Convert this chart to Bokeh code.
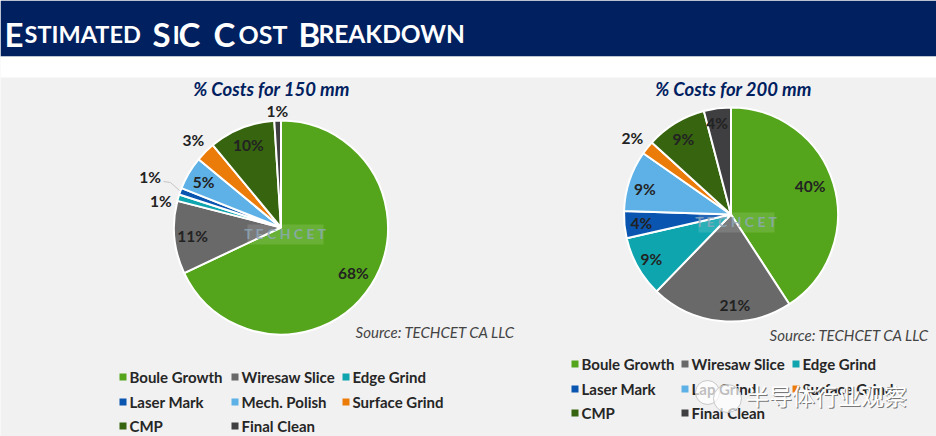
from bokeh.plotting import figure
from bokeh.embed import file_html
from bokeh.resources import INLINE
from bokeh.core.properties import value
from bokeh.models import Range1d
import math

# ---- data ----
categories_150 = ["Boule Growth", "Wiresaw Slice", "Edge Grind", "Laser Mark", "Mech. Polish", "Surface Grind", "CMP", "Final Clean"]
values_150 = [68, 11, 1, 1, 5, 3, 10, 1]
categories_200 = ["Boule Growth", "Wiresaw Slice", "Edge Grind", "Laser Mark", "Lap Grind", "Surface Grind", "CMP", "Final Clean"]
values_200 = [40, 21, 9, 4, 9, 2, 9, 4]
colors = ["#55A51C", "#696969", "#0FA5AE", "#0A55B0", "#5EB1E6", "#EC7C0A", "#36640F", "#3F3F41"]
title_150 = "% Costs for 150 mm"
title_200 = "% Costs for 200 mm"
source = "Source: TECHCET CA LLC"

W, H = 936, 436
FONT = "Lato"
p = figure(width=W, height=H, output_backend="svg", toolbar_location=None,
           x_range=Range1d(0, W), y_range=Range1d(0, H), min_border=0,
           background_fill_color="#F1F1F1", border_fill_color="#F1F1F1", outline_line_color=None)
p.axis.visible = False
p.grid.visible = False

def Y(y):
    return H - y

def txt(x, y, s, size, color="#222222", style="bold", font=FONT, align="left", alpha=1.0, base="middle"):
    p.text([x], [Y(y)], text=[s], text_font=value(font), text_font_size=f"{size}px",
           text_font_style=style, text_color=color, text_align=align,
           text_baseline=base, text_alpha=alpha)

# page furniture
p.quad(left=[0], right=[W], top=[Y(0)], bottom=[Y(56)], fill_color="#002060", line_color=None)
p.quad(left=[0], right=[W], top=[Y(56)], bottom=[Y(77)], fill_color="#FFFFFF", line_color=None)

# small-caps title
for x, s, sz in [(4, "E", 33), (24, "STIMATED", 23.5), (152, "S", 33), (172, "I", 25), (178, "C", 33),
                 (213, "C", 33), (238, "OST", 25), (298, "B", 33), (318, "REAKDOWN", 24.5)]:
    txt(x, 33, s, sz, "#FFFFFF", "bold", base="alphabetic")

def pie(cx, cy, r, vals, radial, nudge):
    total = sum(vals)
    a = math.pi / 2
    for v, c, f, (dx, dy) in zip(vals, colors, radial, nudge):
        sweep = 2 * math.pi * v / total
        p.wedge([cx], [Y(cy)], radius=r, start_angle=a - sweep, end_angle=a,
                fill_color=c, line_color="#FFFFFF", line_width=2)
        mid = a - sweep / 2
        txt(cx + f * r * math.cos(mid) + dx, cy - f * r * math.sin(mid) + dy, f"{v}%", 15.5, "#222222", "bold", align="center")
        a -= sweep

pie(280.5, 227, 107, values_150,
    [0.80, 0.83, 1.15, 1.30, 0.84, 1.16, 0.83, 1.09],
    [(0, 0), (0, 0), (-2, 8), (0, -3), (0, 0), (0, 0), (0, 0), (0, 0)])
pie(730.5, 214, 107, values_200,
    [0.78, 0.8, 0.8, 0.85, 0.8, 1.3, 0.75, 0.8],
    [(-1, -5), (12, 5), (-5, 2), (1, 0), (-5, 1), (10, 10), (-6, -7), (-3, -7)])

# leader line for the 150 mm laser mark label
p.line([163, 170, 179], [Y(181), Y(182), Y(190)], line_color="#C4C4C4", line_width=1)

txt(271, 88, title_150, 18.5, "#002060", "bold italic", align="center")
txt(733, 88, title_200, 18.5, "#002060", "bold italic", align="center")
txt(515, 331, source, 15, "#444444", "italic", align="right")
txt(929, 334, source, 15, "#444444", "italic", align="right")

def legend(cats, xs, ys):
    for i, cat in enumerate(cats):
        col, row = i % 3, i // 3
        p.quad(left=[xs[col] - 10], right=[xs[col] - 3], top=[Y(ys[row] - 4)], bottom=[Y(ys[row] + 3)],
               fill_color=colors[i], line_color=None)
        txt(xs[col], ys[row] - 1, cat, 15, "#262626", "bold")

legend(categories_150, [129, 241, 352], [377, 402, 426])
legend(categories_200, [581, 691, 802], [364, 389, 413])

# watermarks
for x, y in [(285, 233), (736, 221)]:
    p.quad(left=[x - 38], right=[x + 38], top=[Y(y - 9)], bottom=[Y(y + 11)], fill_color="#FFFFFF", fill_alpha=0.12, line_color=None)
    txt(x, y, "T E C H C E T", 14, "#8FA9BD", "bold", align="center", alpha=0.8)

p.scatter([707, 727], [Y(392), Y(398)], size=[24, 28], fill_color="#FFFFFF", fill_alpha=0.7, line_color="#C8C8C8")
txt(827, 395, "半导体行业观察", 23, "#777777", "normal", font="Noto Sans CJK SC", align="center")
txt(826, 394, "半导体行业观察", 23, "#FFFFFF", "normal", font="Noto Sans CJK SC", align="center")

open("out.html", "w").write(file_html(p, INLINE))
